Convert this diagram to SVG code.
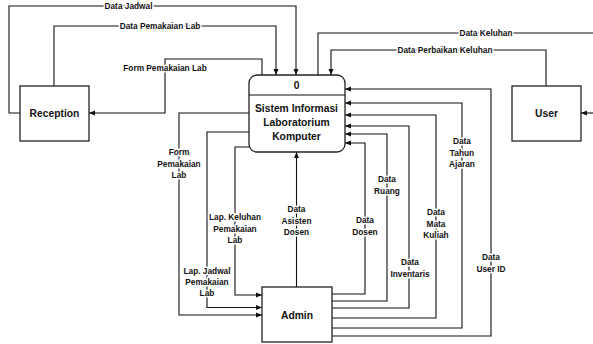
<svg xmlns="http://www.w3.org/2000/svg" width="593" height="344" viewBox="0 0 593 344">
<style>
.box{fill:#fff;stroke:#222;stroke-width:1.3}
.ln{fill:none;stroke:#111;stroke-width:1.1}
.lb{font-family:"Liberation Sans",Arial,sans-serif;font-weight:bold;font-size:8.3px;fill:#111;text-anchor:middle;paint-order:stroke;stroke:#fff;stroke-width:3px;stroke-linejoin:round}
.nt{font-family:"Liberation Sans",Arial,sans-serif;font-weight:bold;font-size:10.3px;fill:#111;text-anchor:middle}
</style>
<defs>
<marker id="ar" markerUnits="userSpaceOnUse" markerWidth="6" markerHeight="6" refX="6" refY="3" orient="auto">
<path d="M0,0.5 L6,3 L0,5.5 z" fill="#111"/>
</marker>
</defs>
<rect width="593" height="344" fill="#fff"/>
<g id="connectors">
<path class="ln" d="M20,113 H9 V6 H296 V75" marker-end="url(#ar)"/>
<path class="ln" d="M54,86 V26 H276 V75" marker-end="url(#ar)"/>
<path class="ln" d="M262,75 V59 H165 V113 H89" marker-end="url(#ar)"/>
<path class="ln" d="M593,33 H318 V75"/>
<path class="ln" d="M593,113 H581" marker-end="url(#ar)"/>
<path class="ln" d="M546,86 V50 H331 V75" marker-end="url(#ar)"/>
<path class="ln" d="M249,113 H179 V315 H262" marker-end="url(#ar)"/>
<path class="ln" d="M249,132 H207 V307.5 H262" marker-end="url(#ar)"/>
<path class="ln" d="M250,147 H235 V295 H262" marker-end="url(#ar)"/>
<path class="ln" d="M296.5,287 V152" marker-end="url(#ar)"/>
<path class="ln" d="M332,294 H365 V143 H345" marker-end="url(#ar)"/>
<path class="ln" d="M332,301 H387 V134 H345" marker-end="url(#ar)"/>
<path class="ln" d="M332,308 H409 V126 H345" marker-end="url(#ar)"/>
<path class="ln" d="M332,318 H436 V115 H345" marker-end="url(#ar)"/>
<path class="ln" d="M332,328 H462 V103 H345" marker-end="url(#ar)"/>
<path class="ln" d="M332,336 H491 V89 H345" marker-end="url(#ar)"/>
<text class="lb" x="128.5" y="9">Data Jadwal</text>
<text class="lb" x="160" y="29">Data Pemakaian Lab</text>
<text class="lb" x="165" y="71">Form Pemakaian Lab</text>
<text class="lb" x="486" y="36">Data Keluhan</text>
<text class="lb" x="445" y="53">Data Perbaikan Keluhan</text>
<text class="lb" x="179" y="155"><tspan x="179">Form</tspan><tspan x="179" dy="11.5">Pemakaian</tspan><tspan x="179" dy="11.5">Lab</tspan></text>
<text class="lb" x="235" y="220"><tspan x="235">Lap. Keluhan</tspan><tspan x="235" dy="11.5">Pemakaian</tspan><tspan x="235" dy="11.5">Lab</tspan></text>
<text class="lb" x="207" y="274"><tspan x="207">Lap. Jadwal</tspan><tspan x="207" dy="11">Pemakaian</tspan><tspan x="207" dy="11">Lab</tspan></text>
<text class="lb" x="296.5" y="212"><tspan x="296.5">Data</tspan><tspan x="296.5" dy="11.5">Asisten</tspan><tspan x="296.5" dy="11.5">Dosen</tspan></text>
<text class="lb" x="365" y="223"><tspan x="365">Data</tspan><tspan x="365" dy="12">Dosen</tspan></text>
<text class="lb" x="387" y="182"><tspan x="387">Data</tspan><tspan x="387" dy="12">Ruang</tspan></text>
<text class="lb" x="410" y="265"><tspan x="410">Data</tspan><tspan x="410" dy="11.5">Inventaris</tspan></text>
<text class="lb" x="436" y="215"><tspan x="436">Data</tspan><tspan x="436" dy="11.5">Mata</tspan><tspan x="436" dy="11.5">Kuliah</tspan></text>
<text class="lb" x="462" y="144"><tspan x="462">Data</tspan><tspan x="462" dy="11.5">Tahun</tspan><tspan x="462" dy="11.5">Ajaran</tspan></text>
<text class="lb" x="491" y="260"><tspan x="491">Data</tspan><tspan x="491" dy="12">User ID</tspan></text>
</g>
<g id="process">
<rect class="box" x="249" y="75" width="96" height="77" rx="8"/>
<line class="ln" x1="249" y1="95" x2="345" y2="95" stroke-width="1.3"/>
<text class="nt" x="296.5" y="89">0</text>
<text class="nt" x="296.5" y="112"><tspan x="296.5">Sistem Informasi</tspan><tspan x="296.5" dy="14">Laboratorium</tspan><tspan x="296.5" dy="14">Komputer</tspan></text>
</g>
<g id="reception">
<rect class="box" x="20" y="86" width="69" height="55"/>
<text class="nt" x="54.5" y="117">Reception</text>
</g>
<g id="user">
<rect class="box" x="512" y="86" width="69" height="55"/>
<text class="nt" x="546.5" y="117">User</text>
</g>
<g id="admin">
<rect class="box" x="262" y="287" width="70" height="55"/>
<text class="nt" x="297" y="319">Admin</text>
</g>
</svg>
